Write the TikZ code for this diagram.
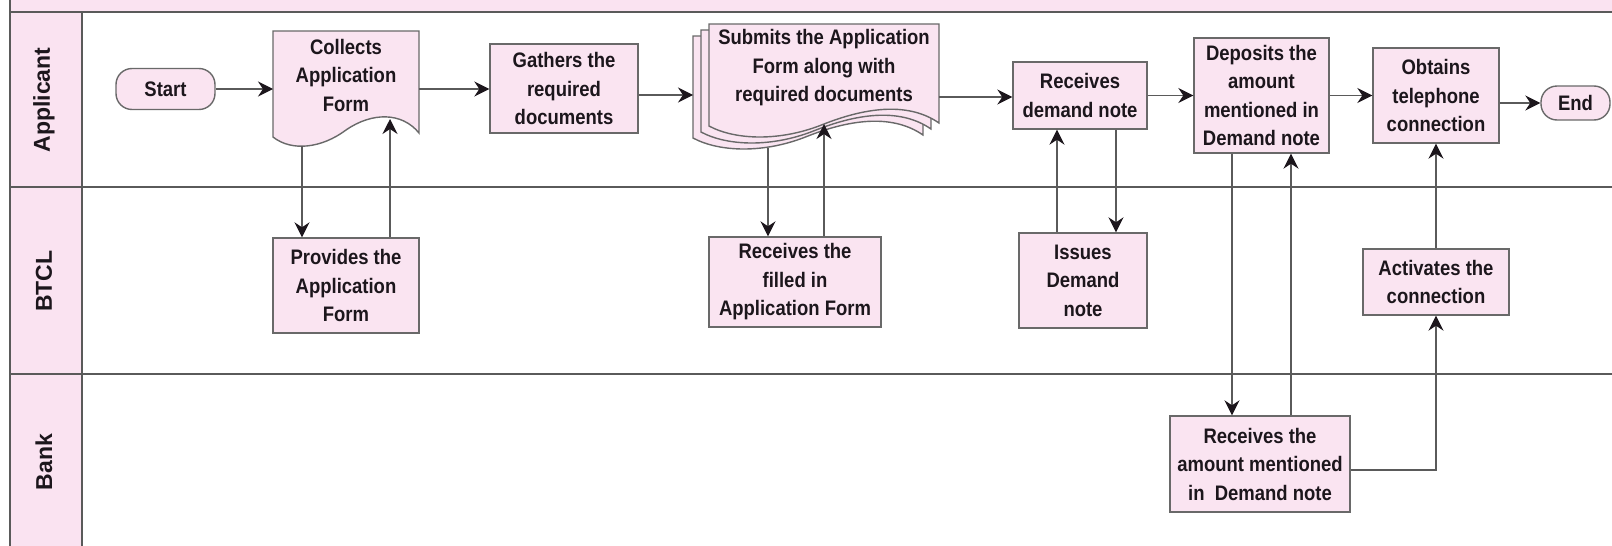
\documentclass[tikz,border=0pt]{standalone}
\usepackage{fontspec}
\setmainfont{Liberation Sans}
\newfontfamily\boxfont{Liberation Sans}[FakeStretch=0.88]
\usetikzlibrary{arrows.meta}
\definecolor{boxpink}{RGB}{250,228,241}
\definecolor{lanepink}{RGB}{250,227,241}
\definecolor{edgegray}{RGB}{105,105,105}
\definecolor{linegray}{RGB}{90,90,90}
\definecolor{inkcol}{RGB}{28,22,28}
\tikzset{
  lanerule/.style={draw=linegray, line width=1.3pt},
  procbox/.style={draw=edgegray, line width=1.4pt, fill=boxpink, inner sep=0pt,
    align=center, text=inkcol, font=\boxfont\bfseries\fontsize{21}{28.5}\selectfont},
  termbox/.style={procbox, rounded corners=16pt},
  doctext/.style={inner sep=0pt, align=center, text=inkcol,
    font=\boxfont\bfseries\fontsize{21}{28.5}\selectfont},
  docshape/.style={draw=edgegray, line width=1.4pt, fill=boxpink},
  lanelabel/.style={rotate=90, text=inkcol, font=\bfseries\fontsize{23}{26}\selectfont},
  conn/.style={draw=linegray, line width=1.3pt,
    -{Stealth[length=15pt,width=15pt,inset=5pt,color=inkcol]}}
}
\begin{document}
\begin{tikzpicture}[x=1pt,y=-1pt]
\useasboundingbox (0,0) rectangle (1612,546);
% lanes
\fill[lanepink] (10,0) rectangle (1612,12);
\fill[lanepink] (10,12) rectangle (82,546);
\draw[lanerule] (10,0) -- (10,546);
\draw[lanerule] (82,12) -- (82,546);
\draw[lanerule] (10,12) -- (1612,12);
\draw[lanerule] (10,187) -- (1612,187);
\draw[lanerule] (10,374) -- (1612,374);
\node[lanelabel] (lApp) at (44,100) {Applicant};
\node[lanelabel] (lBtcl) at (44,281) {BTCL};
\node[lanelabel] (lBank) at (44,462) {Bank};

% document shapes
\path[docshape] (273,31) -- (419,31) -- (419,133)
  .. controls (402,112) and (372,112) .. (346,130)
  .. controls (322,148) and (292,152) .. (273,137) -- cycle;
\foreach \dx/\dy in {-16/12,-8/6,0/0}
  \path[docshape, shift={(\dx,\dy)}] (709,24) -- (939,24) -- (939,123)
  .. controls (910,103) and (870,106) .. (824,124)
  .. controls (780,142) and (735,140) .. (709,126) -- cycle;

% nodes
\node[termbox, minimum width=99pt, minimum height=41pt] (start) at (165.5,89) {Start};
\node[doctext] (collects) at (346,75) {Collects\\Application\\Form};
\node[procbox, minimum width=148pt, minimum height=89pt] (gathers) at (564,88.5) {Gathers the\\required\\documents};
\node[doctext] (submits) at (824,68) {Submits the Application\\Form along with\\required documents};
\node[procbox, minimum width=134pt, minimum height=67pt] (rdn) at (1080,95.5) {Receives\\demand note};
\node[procbox, minimum width=135pt, minimum height=115pt] (deposits) at (1261.5,95.5) {Deposits the\\amount\\mentioned in\\Demand note};
\node[procbox, minimum width=126pt, minimum height=95pt] (obtains) at (1436,95.5) {Obtains\\telephone\\connection};
\node[termbox, minimum width=69pt, minimum height=34pt] (endn) at (1575.5,103) {End};
\node[procbox, minimum width=146pt, minimum height=95pt] (provides) at (346,285.5) {Provides the\\Application\\Form};
\node[procbox, minimum width=172pt, minimum height=90pt] (rfilled) at (795,282) {Receives the\\filled in\\Application Form};
\node[procbox, minimum width=128pt, minimum height=95pt] (issues) at (1083,280.5) {Issues\\Demand\\note};
\node[procbox, minimum width=146pt, minimum height=66pt] (activates) at (1436,282) {Activates the\\connection};
\node[procbox, minimum width=180pt, minimum height=96pt] (ramount) at (1260,464) {Receives the\\amount mentioned\\in\ \ Demand note};

% anchor points on document shapes and vertical connector lines
\coordinate (colW) at (273,89);
\coordinate (colE) at (419,89);
\coordinate (colB1) at (302,146);
\coordinate (colB2) at (390,119);
\coordinate (subW) at (693,95);
\coordinate (subE) at (939,97);
\coordinate (subB1) at (768,148);
\coordinate (subB2) at (824,124);
\coordinate (v1) at (1057,0);
\coordinate (v2) at (1116,0);
\coordinate (v3) at (1232,0);
\coordinate (v4) at (1291,0);

% connectors
\draw[conn] (start.east) -- (colW);
\draw[conn] (colE) -- (colE -| gathers.west);
\draw[conn] (colB1) -- (colB1 |- provides.north);
\draw[conn] (colB2 |- provides.north) -- (colB2);
\draw[conn] (gathers.east |- subW) -- (subW);
\draw[conn] (subE) -- (subE -| rdn.west);
\draw[conn] (subB1) -- (subB1 |- rfilled.north);
\draw[conn] (subB2 |- rfilled.north) -- (subB2);
\draw[conn] (rdn.east) -- (deposits.west);
\draw[conn] (v1 |- issues.north) -- (v1 |- rdn.south);
\draw[conn] (v2 |- rdn.south) -- (v2 |- issues.north);
\draw[conn] (deposits.east) -- (obtains.west);
\draw[conn] (v3 |- deposits.south) -- (v3 |- ramount.north);
\draw[conn] (v4 |- ramount.north) -- (v4 |- deposits.south);
\draw[conn] (obtains.east |- endn.west) -- (endn.west);
\draw[conn] ([yshift=-6pt]ramount.east) -| (activates.south);
\draw[conn] (activates.north) -- (activates.north |- obtains.south);
\end{tikzpicture}
\end{document}
